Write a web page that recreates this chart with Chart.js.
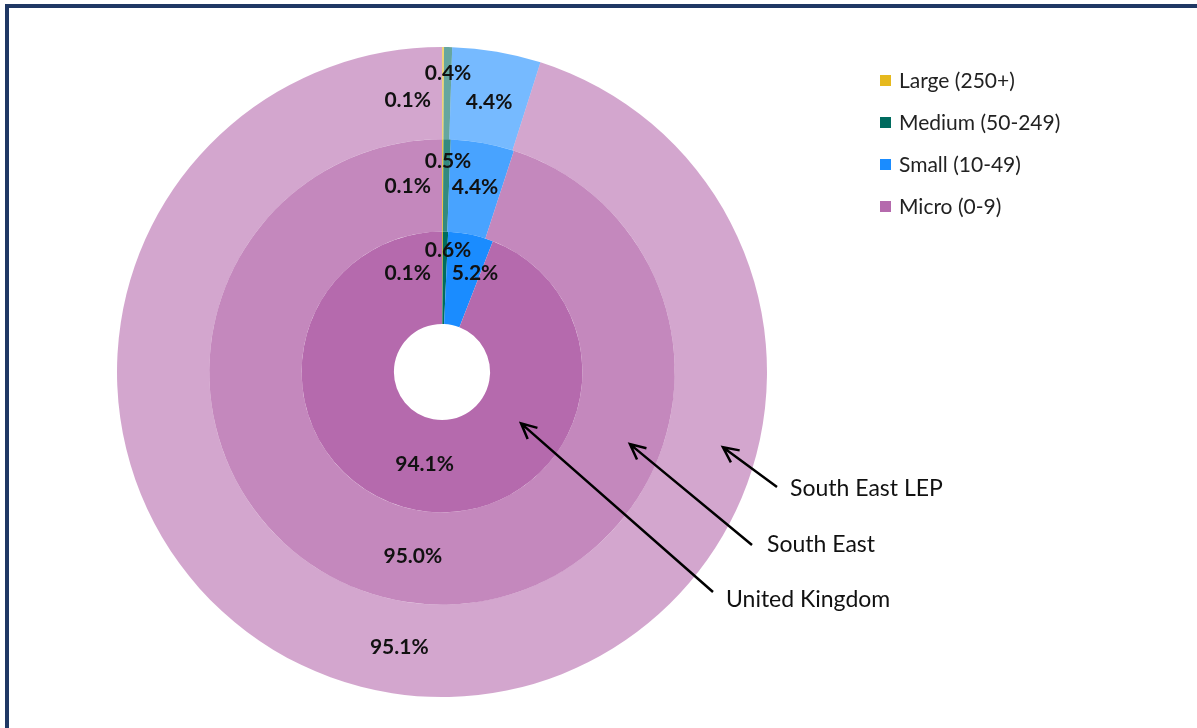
<!DOCTYPE html>
<html>
<head>
<meta charset="utf-8">
<script src="https://cdn.jsdelivr.net/npm/chart.js@4"></script>
<style>
  body { margin: 0; background: #fff; }
  #wrap { position: absolute; left: 0; top: 0; width: 1197px; height: 728px; }
  #frame { position: absolute; left: 5px; top: 4px; right: 0; bottom: 0;
           border-left: 4px solid #1f3864; border-top: 4px solid #1f3864; pointer-events: none; }
</style>
</head>
<body>
<div id="wrap">
  <canvas id="rings" width="1197" height="728"></canvas>
  <div id="frame"></div>
</div>
<script>
let sizeBands = ['Large (250+)', 'Medium (50-249)', 'Small (10-49)', 'Micro (0-9)'];
let areas = ['South East LEP', 'South East', 'United Kingdom'];
// share of businesses, %  (outer ring first)
let lepValues = [0.1, 0.4, 4.4, 95.1];
let southEastValues = [0.1, 0.5, 4.4, 95.0];
let ukValues = [0.1, 0.6, 5.2, 94.1];

let baseColors = [[230, 185, 30], [0, 107, 95], [26, 140, 255], [181, 106, 173]];
let ringAlpha = [0.6, 0.8, 1];

function shade(alpha) {
    return baseColors.map(c => 'rgba(' + c[0] + ',' + c[1] + ',' + c[2] + ',' + alpha + ')');
}

// arrow tip angle (deg, from 3 o'clock, clockwise) and label spot
let pointers = [
    { angle: 15, rOff: 0.63, text: [790, 489], tail: [777, 487] },
    { angle: 21, rOff: 0.66, text: [767, 545], tail: [752, 545] },
    { angle: 33, rOff: 0.5, text: [726, 600], tail: [713, 592] }
];

const ringLabels = {
    id: 'ringLabels',
    afterDraw(chart) {
        const ctx = chart.ctx;
        ctx.save();
        ctx.font = 'bold 21px Lato';
        ctx.fillStyle = '#111';
        ctx.textBaseline = 'middle';
        chart.data.datasets.forEach((ds, d) => {
            const meta = chart.getDatasetMeta(d);
            meta.data.forEach((arc, i) => {
                const cx = arc.x, cy = arc.y;
                const midR = (arc.innerRadius + arc.outerRadius) / 2;
                const k = midR - 94;
                const txt = ds.data[i].toFixed(1) + '%';
                let x, y;
                if (i === 0) {
                    ctx.textAlign = 'right';
                    x = cx - 11; y = cy - midR - 5 + k * 0.065;
                } else if (i === 1) {
                    ctx.textAlign = 'center';
                    x = cx + 6; y = cy - midR - 28 + k * 0.044;
                } else if (i === 2) {
                    const p = arc.tooltipPosition();
                    ctx.textAlign = 'center';
                    x = Math.max(p.x, cx + 33); y = cy - midR - 5 + k * 0.075;
                } else {
                    const p = arc.tooltipPosition();
                    ctx.textAlign = 'center';
                    x = p.x; y = p.y;
                }
                ctx.fillText(txt, x, y);
            });
        });

        // legend
        ctx.font = '21px Lato';
        ctx.textAlign = 'left';
        sizeBands.forEach((lab, i) => {
            const y = 80 + i * 42;
            const c = baseColors[i];
            ctx.fillStyle = 'rgb(' + c.join(',') + ')';
            ctx.fillRect(880, y - 5, 11, 11);
            ctx.fillStyle = '#222';
            ctx.fillText(lab, 899, y + 1);
        });

        // arrows to rings
        ctx.strokeStyle = '#000';
        ctx.lineWidth = 2.5;
        ctx.font = '23px Lato';
        pointers.forEach((p, d) => {
            const arc = chart.getDatasetMeta(d).data[0];
            const r = arc.innerRadius + (arc.outerRadius - arc.innerRadius) * p.rOff;
            const a = p.angle * Math.PI / 180;
            const tx = arc.x + r * Math.cos(a), ty = arc.y + r * Math.sin(a);
            const [sx, sy] = p.tail;
            ctx.beginPath();
            ctx.moveTo(sx, sy);
            ctx.lineTo(tx, ty);
            const ang = Math.atan2(sy - ty, sx - tx);
            ctx.moveTo(tx + 17 * Math.cos(ang + 0.45), ty + 17 * Math.sin(ang + 0.45));
            ctx.lineTo(tx, ty);
            ctx.lineTo(tx + 17 * Math.cos(ang - 0.45), ty + 17 * Math.sin(ang - 0.45));
            ctx.stroke();
            ctx.fillStyle = '#111';
            ctx.fillText(areas[d], p.text[0], p.text[1]);
        });
        ctx.restore();
    }
};

let ringData = {
    labels: sizeBands,
    datasets: [{
        label: areas[0],
        data: lepValues,
        backgroundColor: shade(ringAlpha[0]),
        borderWidth: 0
    }, {
        label: areas[1],
        data: southEastValues,
        backgroundColor: shade(ringAlpha[1]),
        borderWidth: 0
    }, {
        label: areas[2],
        data: ukValues,
        backgroundColor: shade(ringAlpha[2]),
        borderWidth: 0
    }]
};

let ringChart = new Chart(document.getElementById('rings'), {
    type: 'doughnut',
    data: ringData,
    options: {
        responsive: false,
        animation: false,
        cutout: '14.8%',
        layout: { padding: { left: 117, right: 430, top: 47, bottom: 31 } },
        plugins: {
            legend: { display: false },
            tooltip: { enabled: false }
        }
    },
    plugins: [ringLabels]
});
</script>
</body>
</html>
